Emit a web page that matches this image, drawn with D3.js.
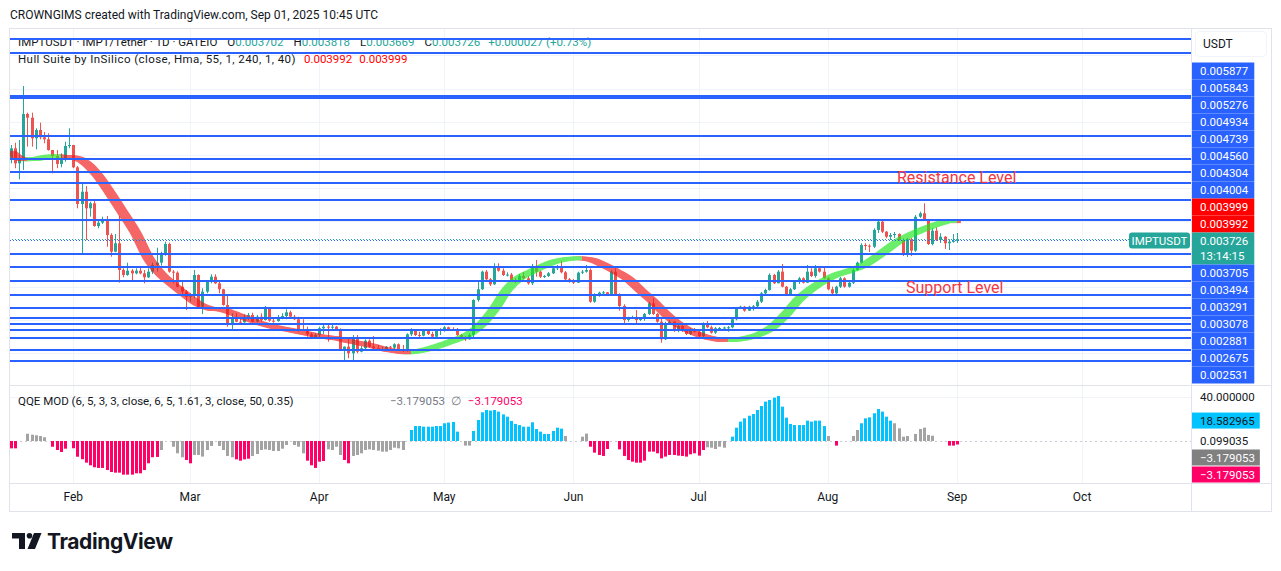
<!DOCTYPE html>
<html>
<head>
<meta charset="utf-8">
<title>IMPTUSDT 1D</title>
<script src="https://cdnjs.cloudflare.com/ajax/libs/d3/7.8.5/d3.min.js"></script>
<style>
body { margin: 0; background: #fff; }
svg { display: block; font-family: Roboto, "Noto Sans", sans-serif; }
</style>
</head>
<body>
<svg width="1281" height="571"></svg>
<script>

// daily candles from 2025-01-17, prices in millionths of USDT
var firstDay = "2025-01-17";
var firstOpen = 4921;
var lastOpen = 3702;
var closes = [
  5098,4871,4941,5616,5560,5249,5374,5264,5234,5072,
  4981,4861,4921,5133,5148,4811,4256,4442,4191,4267,
  3924,3974,4015,3788,3536,3663,3259,3184,3249,3209,
  3249,3209,3149,3234,3335,3370,3486,3652,3234,3219,
  3007,2932,2856,2882,3184,2705,2932,3083,3158,3058,
  2968,2731,2428,2530,2478,2469,2554,2580,2478,2554,
  2504,2681,2493,2488,2545,2564,2620,2554,2515,2353,
  2350,2288,2243,2277,2379,2403,2394,2403,2353,2051,
  2101,2001,2228,2025,2077,2191,2101,2077,2061,2065,
  2101,2086,2137,2066,2036,2288,2353,2277,2267,2342,
  2293,2252,2338,2353,2394,2364,2358,2277,2243,2212,
  2277,2806,2968,3234,3119,3043,3300,3249,3184,3190,
  3108,3083,3169,3134,3058,3320,3234,3158,3169,3209,
  3285,3309,3225,3119,3083,3067,3219,3234,3259,2780,
  2882,2917,2922,2897,3234,2882,2716,2504,2539,2549,
  2504,2530,2595,2756,2595,2478,2212,2454,2478,2338,
  2413,2338,2293,2364,2327,2262,2439,2394,2312,2379,
  2383,2390,2394,2515,2681,2705,2645,2705,2711,2780,
  2907,2957,3184,3058,3234,3007,2897,2968,3083,3134,
  3067,3234,3169,3285,3234,3134,2968,2907,3007,3134,
  3007,3067,3259,3370,3637,3626,3611,3864,3989,3838,
  3762,3788,3803,3713,3486,3723,3551,4064,4116,4015,
  3652,3853,3713,3762,3663,3687,3699,3726
];
var highs = [
  5148,5182,5223,6039,5636,5636,5400,5485,5344,5324,
  5072,5072,5022,5197,5400,5148,4830,4569,4528,4291,
  4332,4025,4065,4075,3814,3803,4075,3285,3370,3274,
  3285,3300,3259,3285,3370,3596,3536,3687,3672,3259,
  3240,3083,2957,2907,3259,3194,2983,3108,3194,3194,
  3108,2975,2882,2605,2605,2545,2590,2610,2614,2580,
  2605,2716,2690,2545,2580,2605,2666,2645,2580,2554,
  2515,2403,2312,2303,2403,2428,2428,2428,2413,2379,
  2105,2228,2277,2277,2111,2212,2212,2262,2126,2101,
  2111,2111,2152,2150,2126,2303,2379,2368,2327,2364,
  2368,2327,2353,2379,2413,2403,2394,2383,2293,2262,
  2303,2817,3108,3249,3259,3138,3361,3361,3285,3225,
  3215,3138,3199,3229,3169,3350,3410,3250,3184,3229,
  3305,3335,3400,3244,3138,3123,3234,3259,3335,3285,
  2907,2932,2942,2927,3259,3285,2907,2741,2554,2569,
  2655,2549,2610,2776,2832,2610,2554,2478,2504,2489,
  2428,2424,2364,2379,2383,2358,2469,2489,2418,2398,
  2398,2403,2413,2534,2700,2720,2716,2720,2731,2806,
  2927,2977,3209,3200,3259,3350,3018,2987,3108,3154,
  3150,3335,3285,3335,3310,3305,3154,3007,3022,3154,
  3149,3083,3285,3385,3663,3663,3648,3889,4015,4015,
  3848,3818,3833,3814,3738,3743,3743,4090,4140,4267,
  4030,3894,3904,3814,3773,3723,3803,3818
];
var lows = [
  4871,4796,4629,4770,5122,5122,5083,5234,5173,5062,
  4720,4796,4811,4895,5098,4796,4191,3501,3713,4065,
  3913,3889,3954,3611,3460,3527,3068,3149,3173,3108,
  3194,3194,3058,3139,3199,3234,3324,3475,3219,3058,
  2998,2867,2655,2780,2832,2690,2595,2907,3058,3048,
  2907,2720,2403,2353,2469,2454,2463,2504,2469,2469,
  2478,2495,2478,2463,2478,2515,2515,2545,2504,2327,
  2338,2252,2222,2217,2243,2293,2176,2353,2342,2040,
  1874,1926,1900,2001,2016,2051,2086,2061,2040,2051,
  2061,2070,2061,2055,2021,2025,2262,2262,2247,2258,
  2277,2237,2247,2277,2327,2353,2338,2262,2228,2187,
  2206,2228,2780,2957,3093,3018,3033,3234,3169,3160,
  3093,3063,3071,3123,3037,3033,3158,3138,3138,3154,
  3199,3259,3209,3104,3067,3048,3063,3199,3219,2765,
  2765,2856,2892,2882,2882,2867,2645,2428,2478,2519,
  2428,2489,2493,2580,2580,2463,2161,2202,2428,2323,
  2318,2323,2277,2277,2312,2247,2247,2379,2297,2293,
  2353,2342,2327,2379,2499,2670,2629,2640,2645,2690,
  2761,2882,2947,3048,3063,2998,2882,2882,2957,3048,
  3055,3063,3154,3143,3219,3119,2953,2892,2871,2987,
  2992,2992,3048,3244,3354,3561,3531,3592,3818,3818,
  3738,3713,3743,3697,3471,3456,3471,3531,4045,4004,
  3637,3632,3697,3667,3577,3561,3672,3669
];

// Hull Suite centre line, read at these bar numbers (millionths)
var hullBar = [0,3,6,9,11,13,15,18,21,24,27,30,33,36,39,42,45,48,51,54,57,60,63,66,69,72,75,78,81,84,87,90,93,95,
  98,101,104,107,110,113,116,119,122,125,128,131,134,136,139,142,145,148,151,154,157,160,163,166,169,171,
  174,177,180,183,186,189,192,195,198,201,204,207,210,213,216,219,222,224,225,226,227];
var hullVal = [5046,4929,4936,4974,4977,4969,4962,4876,4679,4407,4116,3818,3441,3199,3033,2882,2746,2675,2655,2590,2519,2454,2403,2365,2327,2290,2252,2228,2187,2149,2111,2058,2028,2013,
  2036,2081,2142,2210,2293,2444,2670,2957,3138,3237,3327,3395,3429,3436,3418,3343,3244,3131,2957,2791,2602,2447,2338,2262,2217,2202,
  2207,2240,2300,2413,2595,2814,2972,3093,3184,3244,3312,3426,3562,3697,3796,3876,3947,3985,3999,4000,3992];

// horizontal levels drawn on the chart (millionths)
var levels = [6734,6537,5877,5843,5276,4934,4739,4560,4304,4004,3494,3291,3078,2881,2675,2531,2433,2342,2222,2040,1870];
var dottedLevel = 3705;
var levelLabels = [5877,5843,5276,4934,4739,4560,4304,4004,3705,3494,3291,3078,2881,2675,2531];
var hullLast = [3999,3992];
var countdown = "13:14:15";

// QQE MOD histogram, one value per bar (null = no bar); colour codes r / g(grey) / b
var qqeVal = [
  -6.7,-6.7,null,null,6.6,5.7,5.2,4.5,3.4,null,
  -5.2,-8.2,-10,-7,null,-6.6,-14.3,-16.6,-19.7,-22.1,
  -23.9,-24.5,-24.5,-26.4,-28.2,-28.8,-28.8,-30.6,-30.6,-30.6,
  -29.4,-29.4,-26.4,-20.3,-14.8,-14.5,-8.2,null,null,-5.2,
  -11.2,-14.8,-17.3,-20.3,-12.7,-12.7,-14.2,-8.2,-4.5,null,
  -4.5,-8.2,-13.6,-14.8,-16.7,-17.9,-16.7,-16.1,-13.6,-11.8,
  -8.2,-7.6,-8.2,-9.1,-9.1,-7,-3.6,null,-3.6,-5.2,
  -11.2,-17.9,-22.1,-24.5,-18.8,-18.2,-7.6,-8.2,-5.2,-12.7,
  -17.3,-20.3,-13.6,-12.7,-11.2,-8.2,-7.6,-8.2,-8.8,-9.7,
  -9.7,-8.2,-6.1,-6.7,-8.2,null,10,13.6,13.6,13,
  13,13,13.6,13.6,16.1,16.7,17.3,8.5,null,-4.2,
  -4.2,9.1,19.1,26.1,28.2,27.6,28.2,26.7,24.2,22.1,
  18.2,15.5,14.5,13,13,17,10.9,8.5,6.4,6.4,
  9.1,12.1,11.2,4.5,null,null,null,3.9,6.7,-5.2,
  -10.6,-12.7,-13.6,-7.3,null,null,-7.6,-13.6,-17.3,-18.8,
  -19.7,-19.7,-17.9,-9.7,-9.7,-11.2,-15.8,-14.2,-12.7,-12.7,
  -13.3,-13.6,-14.2,-12.1,-11.2,-13.3,-8.2,-5.8,-6.1,-7.3,
  -5.2,-6.1,null,3.9,12.1,17.6,20.6,23,24.5,28.2,
  31.8,35.8,37.3,39.4,40.9,31.2,21.2,15.5,14.5,14.5,
  14.5,18.5,17.6,18.5,18.5,13.6,4.5,null,-4.2,null,
  null,null,4.5,10,16.1,20.6,21.5,25.2,29.1,26.7,
  22.1,18.5,16.1,11.5,3.9,4.5,null,6.4,10.9,12.1,
  5.5,4.8,null,null,null,-4.2,-4.2,-3.179053
];
var qqeCol = "rr..ggggg.rrrr.rrrrrrrrrrrrrrrrrrrrrg..gggrrggggg.ggggrrrrggggggggg.gggrrrrrggggrrggggggggggggg.bbbbbbbbbbbb.ggbbbbbbbbbbbbbbbbbbbbbbg...ggrrrrr..rrrrrrrrrrrrrrrrrrrrrggggg.bbbbbbbbbbbbbbbbbbbbbbbg.r...ggbbbbbbbbgggg.ggggg...rrr";
var qqeLabels = [
  {v: 40, text: "40.000000", fill: null, color: "#131722"},
  {v: 18.582965, text: "18.582965", fill: "#00c3ff", color: "#131722"},
  {v: 0.099035, text: "0.099035", fill: null, color: "#131722"},
  {v: -3.179053, text: "\u22123.179053", fill: "#808080", color: "#fff"},
  {v: -3.179053, text: "\u22123.179053", fill: "#ff0066", color: "#fff"}
];

var green = "#26a69a", red = "#ef5350", blue = "#2962ff", ink = "#131722", frame = "#e0e3eb";
var qqeColors = {r: "#ff0066", g: "#a3a3a3", b: "#00c3ff"};

var svg = d3.select("svg");
var left = 10, right = 1191, axisEnd = 1271,
    paneTop = 29, paneBottom = 385, qTop = 386, qBottom = 483, frameBottom = 511;

var day0 = new Date(firstDay + "T00:00:00Z");
var bars = closes.map(function(c, i) {
  var o = i === closes.length - 1 ? lastOpen : (i ? closes[i - 1] : firstOpen);
  return {
    date: d3.utcDay.offset(day0, i),
    o: o / 1e6, c: c / 1e6,
    h: Math.max(highs[i], o, c) / 1e6,
    l: Math.min(lows[i], o, c) / 1e6
  };
});
var last = bars[bars.length - 1];
var prevClose = bars[bars.length - 2].c;

var x = d3.scaleUtc()
    .domain([new Date("2025-01-16T20:00:00Z"), new Date("2025-10-27T03:00:00Z")])
    .range([left, right]);
var y = d3.scaleLinear().domain([0.001522, 0.0069]).range([paneBottom, paneTop]);
var yq = d3.scaleLinear().domain([-38.2, 50]).range([qBottom, qTop]);

var defs = svg.append("defs");
defs.append("clipPath").attr("id", "clipMain").append("rect")
    .attr("x", left).attr("y", paneTop).attr("width", right - left).attr("height", paneBottom - paneTop);
defs.append("clipPath").attr("id", "clipQ").append("rect")
    .attr("x", left).attr("y", qTop).attr("width", right - left).attr("height", qBottom - qTop);

// header
svg.append("text").attr("x", 10).attr("y", 19).attr("font-size", 12).attr("fill", ink)
    .text("CROWNGIMS created with TradingView.com, Sep 01, 2025 10:45 UTC");

// grid
var grid = svg.append("g").attr("stroke", "#f0f3fa").attr("stroke-width", 1);
var months = x.ticks(d3.utcMonth);
grid.selectAll("line.v").data(months).join("line")
    .attr("x1", function(d) { return Math.round(x(d)) + 0.5; })
    .attr("x2", function(d) { return Math.round(x(d)) + 0.5; })
    .attr("y1", paneTop).attr("y2", qBottom);
grid.selectAll("line.h").data(y.ticks(10)).join("line")
    .attr("x1", left).attr("x2", right)
    .attr("y1", function(d) { return Math.round(y(d)) + 0.5; })
    .attr("y2", function(d) { return Math.round(y(d)) + 0.5; });
grid.append("line").attr("x1", left).attr("x2", right)
    .attr("y1", Math.round(yq(40)) + 0.5).attr("y2", Math.round(yq(40)) + 0.5);

// legends
var lg = svg.append("text").attr("x", 18).attr("y", 45.5).attr("font-size", 11.5).attr("fill", ink);
lg.append("tspan").text("IMPTUSDT \u00b7 IMPT/Tether \u00b7 1D \u00b7 GATEIO");
[["O", last.o], ["H", last.h], ["L", last.l], ["C", last.c]].forEach(function(p) {
  lg.append("tspan").attr("dx", 10).text(p[0]);
  lg.append("tspan").attr("fill", green).text(d3.format(".6f")(p[1]));
});
lg.append("tspan").attr("dx", 8).attr("fill", green)
    .text("+" + d3.format(".6f")(last.c - prevClose) + " (+" + d3.format(".2f")((last.c - prevClose) / prevClose * 100) + "%)");

var lg2 = svg.append("text").attr("x", 18).attr("y", 62.5).attr("font-size", 11.5).attr("fill", ink);
lg2.append("tspan").attr("letter-spacing", 0.42).text("Hull Suite by InSilico (close, Hma, 55, 1, 240, 1, 40)");
lg2.append("tspan").attr("dx", 8).attr("fill", "#ff0000").text(d3.format(".6f")(hullLast[1] / 1e6));
lg2.append("tspan").attr("dx", 7).attr("fill", "#ff0000").text(d3.format(".6f")(hullLast[0] / 1e6));

// candles
var cg = svg.append("g").attr("clip-path", "url(#clipMain)");
function cx(d) { return Math.round(x(d.date)); }
cg.selectAll("line.wick").data(bars).join("line")
    .attr("x1", function(d) { return cx(d) + 0.5; })
    .attr("x2", function(d) { return cx(d) + 0.5; })
    .attr("y1", function(d) { return y(d.h); })
    .attr("y2", function(d) { return y(d.l); })
    .attr("stroke", function(d) { return d.c >= d.o ? green : red; });
cg.selectAll("rect.body").data(bars).join("rect")
    .attr("x", function(d) { return cx(d) - 1; })
    .attr("width", 3)
    .attr("y", function(d) { return y(Math.max(d.o, d.c)); })
    .attr("height", function(d) { return Math.max(1, Math.abs(y(d.o) - y(d.c))); })
    .attr("fill", function(d) { return d.c >= d.o ? green : red; });

// hull band
var hullPts = hullBar.map(function(b, i) { return {date: bars[b].date, v: hullVal[i] / 1e6}; });
var grad = defs.append("linearGradient").attr("id", "hullGrad")
    .attr("gradientUnits", "userSpaceOnUse").attr("x1", left).attr("x2", right).attr("y1", 0).attr("y2", 0);
var dir = null;
for (var i = 1; i < hullPts.length; i++) {
  var d = hullPts[i].v >= hullPts[i - 1].v ? "#20e820" : "#f01818";
  if (d !== dir) {
    var off = Math.max(0, (x(hullPts[i - 1].date) - left) / (right - left));
    if (dir) grad.append("stop").attr("offset", off).attr("stop-color", dir);
    grad.append("stop").attr("offset", off).attr("stop-color", d);
    dir = d;
  }
}
var hullLine = d3.line().x(function(d) { return x(d.date); }).y(function(d) { return y(d.v); })
    .curve(d3.curveMonotoneX);
var hg = cg.append("g").attr("opacity", 0.66);
[-4, -2, 0, 2, 4].forEach(function(dx) {
  hg.append("path").attr("d", hullLine(hullPts)).attr("transform", "translate(" + dx + ",0)")
      .attr("fill", "none").attr("stroke", "url(#hullGrad)").attr("stroke-width", 3.5);
});

// level lines
var lv = svg.append("g");
lv.selectAll("line").data(levels).join("line")
    .attr("x1", left).attr("x2", right)
    .attr("y1", function(d) { return Math.floor(y(d / 1e6)); })
    .attr("y2", function(d) { return Math.floor(y(d / 1e6)); })
    .attr("stroke", blue).attr("stroke-width", 2);
lv.append("line").attr("x1", left).attr("x2", right)
    .attr("y1", y(dottedLevel / 1e6)).attr("y2", y(dottedLevel / 1e6))
    .attr("stroke", blue).attr("stroke-width", 1).attr("stroke-dasharray", "1,2");
lv.append("line").attr("x1", left).attr("x2", right)
    .attr("y1", Math.round(y(last.c)) + 0.5).attr("y2", Math.round(y(last.c)) + 0.5)
    .attr("stroke", green).attr("stroke-width", 1).attr("stroke-dasharray", "1,2")
    .attr("stroke-dashoffset", 1);

// annotations
svg.append("text").attr("x", 897).attr("y", 182.5).attr("font-size", 16).attr("fill", "#f23645").text("Resistance Level");
svg.append("text").attr("x", 906).attr("y", 292.5).attr("font-size", 16).attr("fill", "#f23645").text("Support Level");

// QQE pane
var qg = svg.append("g").attr("clip-path", "url(#clipQ)");
qg.append("line").attr("x1", left).attr("x2", right)
    .attr("y1", Math.round(yq(0)) + 0.5).attr("y2", Math.round(yq(0)) + 0.5)
    .attr("stroke", "#c8cbd3").attr("stroke-dasharray", "2,3");
var qbars = bars.map(function(b, i) { return {date: b.date, v: qqeVal[i], c: qqeCol[i]}; })
    .filter(function(d) { return d.v !== null; });
qg.selectAll("rect").data(qbars).join("rect")
    .attr("x", function(d) { return cx(d) - 1; })
    .attr("width", 3)
    .attr("y", function(d) { return Math.min(yq(0), yq(d.v)); })
    .attr("height", function(d) { return Math.abs(yq(d.v) - yq(0)); })
    .attr("fill", function(d) { return qqeColors[d.c]; });

var ql = svg.append("text").attr("x", 18).attr("y", 404.5).attr("font-size", 11.5).attr("fill", ink);
ql.append("tspan").text("QQE MOD (6, 5, 3, 3, close, 6, 5, 1.61, 3, close, 50, 0.35)");
ql.append("tspan").attr("x", 390).attr("fill", "#787b86").text("\u22123.179053");
ql.append("tspan").attr("dx", 6).attr("fill", "#787b86").text("\u2205");
ql.append("tspan").attr("dx", 7).attr("fill", "#ff0066").text("\u22123.179053");

// frame
var fr = svg.append("g").attr("stroke", frame).attr("fill", "none");
fr.append("rect").attr("x", left - 0.5).attr("y", paneTop - 0.5).attr("width", axisEnd - left + 1).attr("height", frameBottom - paneTop + 1);
fr.append("line").attr("x1", right + 0.5).attr("x2", right + 0.5).attr("y1", paneTop).attr("y2", frameBottom);
fr.append("line").attr("x1", left).attr("x2", axisEnd).attr("y1", paneBottom + 0.5).attr("y2", paneBottom + 0.5);
fr.append("line").attr("x1", left).attr("x2", axisEnd).attr("y1", qBottom + 0.5).attr("y2", qBottom + 0.5);

// time axis
svg.append("g").attr("font-size", 12).attr("fill", ink).attr("text-anchor", "middle")
  .selectAll("text").data(months).join("text")
    .attr("x", function(d) { return x(d); }).attr("y", 500.5)
    .text(d3.utcFormat("%b"));

// price axis
var ax = svg.append("g").attr("font-size", 11.5);
ax.append("rect").attr("x", 1195.5).attr("y", 31.5).attr("width", 71).attr("height", 25).attr("rx", 4)
    .attr("fill", "#fff").attr("stroke", "#f0f3fa");
ax.append("text").attr("x", 1203).attr("y", 48).attr("font-size", 12).attr("fill", ink).text("USDT");

function stack(items, limit) {
  var prev = -Infinity;
  items.forEach(function(d) { d.top = Math.max(d.cy - d.h / 2, prev); prev = d.top + d.h; });
  var next = limit;
  for (var k = items.length - 1; k >= 0; k--) {
    if (items[k].top + items[k].h > next) items[k].top = next - items[k].h;
    next = items[k].top;
  }
}
var fmt = d3.format(".6f");
var pl = levelLabels.map(function(v) { return {v: v / 1e6, fill: blue, lines: [fmt(v / 1e6)], h: 17}; })
  .concat(hullLast.map(function(v) { return {v: v / 1e6, fill: "#ff0000", lines: [fmt(v / 1e6)], h: 17}; }))
  .concat([{v: last.c, fill: green, lines: [fmt(last.c), countdown], h: 32, current: true}])
  .sort(function(a, b) { return b.v - a.v; });
pl.forEach(function(d) { d.cy = y(d.v); });
stack(pl, paneBottom - 1.5);
pl.forEach(function(d) {
  var g = ax.append("g");
  var r = g.append("rect").attr("x", right + 1).attr("y", d.top).attr("height", d.h).attr("fill", d.fill);
  var w = 0;
  d.lines.forEach(function(s, j) {
    var t = g.append("text").attr("x", 1200).attr("fill", "#fff")
        .attr("y", d.top + (d.lines.length === 1 ? d.h / 2 : 8.5 + j * 14.5)).attr("dy", "0.35em").text(s);
    w = Math.max(w, t.node().getComputedTextLength());
  });
  r.attr("width", 1200 - right - 1 + w + 6);
  if (d.current) {
    svg.append("rect").attr("x", 1129).attr("y", d.top).attr("width", 61).attr("height", 16).attr("rx", 3).attr("fill", green);
    svg.append("text").attr("x", 1159.5).attr("y", d.top + 8).attr("dy", "0.35em").attr("text-anchor", "middle")
        .attr("font-size", 11.5).attr("fill", "#fff").text("IMPTUSDT");
  }
});

qqeLabels.forEach(function(d) { d.cy = yq(d.v); d.h = 17; });
stack(qqeLabels, qBottom);
qqeLabels.forEach(function(d) {
  var g = ax.append("g");
  var t = g.append("text").attr("x", 1200).attr("y", d.top + 8.5).attr("dy", "0.35em")
      .attr("fill", d.color).text(d.text);
  if (d.fill) {
    g.insert("rect", "text").attr("x", right + 1).attr("y", d.top + 0.5).attr("height", 16)
        .attr("width", 1200 - right - 1 + t.node().getComputedTextLength() + 5).attr("fill", d.fill);
  }
});

// TradingView logo
var logo = svg.append("g").attr("fill", ink);
logo.append("path").attr("d", "M12,533H25V549H19V538.5H12Z");
logo.append("circle").attr("cx", 29.5).attr("cy", 535.8).attr("r", 2.8);
logo.append("path").attr("d", "M34,533H41.5L35,549H27.5Z");
logo.append("text").attr("x", 47).attr("y", 548.5).attr("font-size", 21).attr("font-weight", 700)
    .attr("font-family", "Inter, Roboto, sans-serif").attr("letter-spacing", -0.4).text("TradingView");

</script>
</body>
</html>
